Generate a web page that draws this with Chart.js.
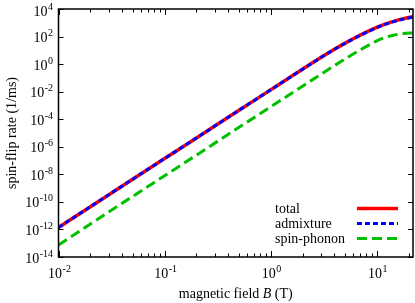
<!DOCTYPE html>
<html>
<head>
<meta charset="utf-8">
<script src="https://cdn.jsdelivr.net/npm/chart.js@4"></script>
<style>
  html, body { margin: 0; padding: 0; background: #fff; }
  #wrap { width: 415px; height: 303px; }
</style>
</head>
<body>
<div id="wrap"><canvas id="rateChart" width="415" height="303"></canvas></div>
<script>
// --- data ---
const fieldB = [0.01, 0.02, 0.05, 0.1, 0.2, 0.5, 1, 1.5, 2, 3, 4, 5, 7, 10, 12, 15, 18, 22];
const totalRate = [1.4e-12, 4.5e-11, 4.4e-9, 1.4e-7, 4.4e-6, 4.3e-4, 1.35e-2, 0.102, 0.427, 3.11, 12.0, 32.1, 127, 460, 794, 1390, 2000, 2750];
const admixtureRate = [1.4e-12, 4.5e-11, 4.4e-9, 1.4e-7, 4.4e-6, 4.3e-4, 1.35e-2, 0.102, 0.427, 3.1, 11.9, 31.5, 123, 445, 765, 1330, 1900, 2600];
const phononRate = [7.5e-14, 2.5e-12, 2.5e-10, 7.9e-9, 2.5e-7, 2.5e-5, 7.9e-4, 6.0e-3, 0.025, 0.19, 0.78, 2.28, 10.7, 47.9, 85.7, 134, 167, 185];

const xMajor = [-2, -1, 0, 1];                       // exponents of 10
const yMajor = [-14, -12, -10, -8, -6, -4, -2, 0, 2, 4];
const legendLabels = ['total', 'admixture', 'spin-phonon'];

const SERIF = '"Liberation Serif", "Times New Roman", serif';

// draw "10^n" as base + raised exponent
function drawPow(ctx, exp, x, y, align) {
    const base = '10', sup = String(exp);
    ctx.font = '14px ' + SERIF;
    const wb = ctx.measureText(base).width;
    ctx.font = '10px ' + SERIF;
    const ws = ctx.measureText(sup).width;
    const total = wb + ws + 0.5;
    let left = x;
    if (align === 'right') left = x - total;
    if (align === 'center') left = x - total / 2;
    ctx.textAlign = 'left';
    ctx.textBaseline = 'alphabetic';
    ctx.font = '14px ' + SERIF;
    ctx.fillText(base, left, y);
    ctx.font = '10px ' + SERIF;
    ctx.fillText(sup, left + wb + 0.5, y - 6);
}

const frame = {
    id: 'frame',
    afterDraw(chart) {
        const ctx = chart.ctx;
        const a = chart.chartArea;
        const xs = chart.scales.x, ys = chart.scales.y;
        ctx.save();
        ctx.strokeStyle = '#000';
        ctx.fillStyle = '#000';

        // ticks, pointing inwards on all four sides
        ctx.lineWidth = 1;
        ctx.beginPath();
        for (let e = -2; e <= 1; e++) {
            for (let m = 1; m <= 9; m++) {
                const v = m * Math.pow(10, e);
                if (v > xs.max) break;
                const px = Math.round(xs.getPixelForValue(v)) + 0.5;
                const len = m === 1 ? 6 : 3.5;
                ctx.moveTo(px, a.bottom); ctx.lineTo(px, a.bottom - len);
                ctx.moveTo(px, a.top); ctx.lineTo(px, a.top + len);
            }
        }
        yMajor.forEach(e => {
            const py = Math.round(ys.getPixelForValue(Math.pow(10, e))) + 0.5;
            ctx.moveTo(a.left, py); ctx.lineTo(a.left + 5, py);
            ctx.moveTo(a.right, py); ctx.lineTo(a.right - 5, py);
        });
        ctx.stroke();

        // frame
        ctx.lineWidth = 1.5;
        ctx.strokeRect(a.left, a.top, a.right - a.left, a.bottom - a.top);

        // tick labels
        xMajor.forEach(e => {
            const px = xs.getPixelForValue(Math.pow(10, e));
            drawPow(ctx, e, px + 1, 278, 'center');
        });
        yMajor.forEach(e => {
            const py = ys.getPixelForValue(Math.pow(10, e));
            drawPow(ctx, e, 53, Math.max(py + 5.5, 16), 'right');
        });

        // axis titles
        ctx.font = '14px ' + SERIF;
        ctx.textBaseline = 'alphabetic';
        const mid = (a.left + a.right) / 2;
        const p1 = 'magnetic field ', p2 = 'B', p3 = ' (T)';
        const w1 = ctx.measureText(p1).width, w3 = ctx.measureText(p3).width;
        ctx.font = 'italic 14px ' + SERIF;
        const w2 = ctx.measureText(p2).width;
        let lx = mid - (w1 + w2 + w3) / 2;
        ctx.textAlign = 'left';
        ctx.font = '14px ' + SERIF;
        ctx.fillText(p1, lx, 298);
        ctx.font = 'italic 14px ' + SERIF;
        ctx.fillText(p2, lx + w1, 298);
        ctx.font = '14px ' + SERIF;
        ctx.fillText(p3, lx + w1 + w2, 298);

        ctx.save();
        ctx.translate(16, (a.top + a.bottom) / 2);
        ctx.rotate(-Math.PI / 2);
        ctx.textAlign = 'center';
        ctx.fillText('spin-flip rate (1/ms)', 0, 0);
        ctx.restore();

        // legend (text left, sample line right)
        const rows = [208.5, 223.5, 238.5];
        chart.data.datasets.forEach((ds, i) => {
            ctx.font = '14px ' + SERIF;
            ctx.textAlign = 'left';
            ctx.textBaseline = 'middle';
            ctx.fillStyle = '#000';
            ctx.fillText(legendLabels[i], 275, rows[i] + 1);
            ctx.beginPath();
            ctx.strokeStyle = ds.borderColor;
            ctx.lineWidth = ds.borderWidth;
            ctx.setLineDash(ds.borderDash || []);
            ctx.moveTo(357, rows[i]);
            ctx.lineTo(398, rows[i]);
            ctx.stroke();
            ctx.setLineDash([]);
        });
        ctx.restore();
    }
};

const ctx = document.getElementById('rateChart').getContext('2d');
new Chart(ctx, {
    type: 'line',
    data: {
        datasets: [
            {
                label: legendLabels[0],
                data: fieldB.map((b, i) => ({ x: b, y: totalRate[i] })),
                borderColor: '#ff0000',
                borderWidth: 3.5,
                order: 1
            },
            {
                label: legendLabels[1],
                data: fieldB.map((b, i) => ({ x: b, y: admixtureRate[i] })),
                borderColor: '#0000ff',
                borderWidth: 3,
                borderDash: [5, 3],
                order: 0
            },
            {
                label: legendLabels[2],
                data: fieldB.map((b, i) => ({ x: b, y: phononRate[i] })),
                borderColor: '#00c000',
                borderWidth: 3,
                borderDash: [10, 5],
                order: 2
            }
        ]
    },
    options: {
        responsive: false,
        animation: false,
        layout: { padding: { left: 58.5, right: 2, top: 9, bottom: 46 } },
        elements: {
            point: { radius: 0 },
            line: { cubicInterpolationMode: 'monotone', fill: false }
        },
        plugins: { legend: { display: false }, tooltip: { enabled: false } },
        scales: {
            x: { type: 'logarithmic', min: 0.01, max: 22, display: false },
            y: { type: 'logarithmic', min: 1e-14, max: 1e4, display: false }
        }
    },
    plugins: [frame]
});
</script>
</body>
</html>
